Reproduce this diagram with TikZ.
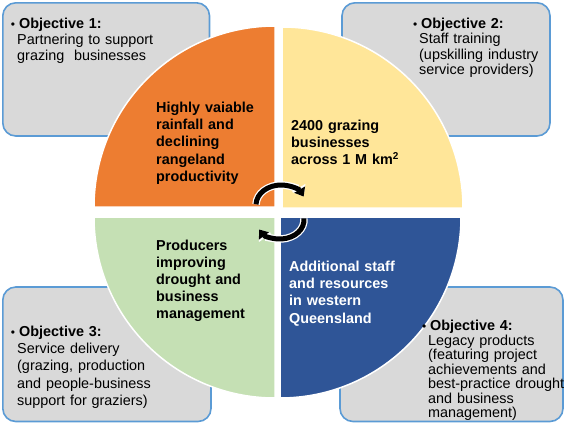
\documentclass[tikz,border=0pt]{standalone}
\usepackage{fontspec}
\setmainfont{Liberation Sans}
\usepackage{xcolor}
\usetikzlibrary{arrows.meta}
\setlength{\parindent}{0pt}
\definecolor{objgray}{HTML}{D9D9D9}
\definecolor{objblue}{HTML}{5B9BD5}
\definecolor{qorange}{HTML}{ED7D31}
\definecolor{qyellow}{HTML}{FFE699}
\definecolor{qgreen}{HTML}{C5E0B4}
\definecolor{qblue}{HTML}{2F5597}
\tikzset{
  objbox/.style={draw=objblue, fill=objgray, line width=1.6pt, rounded corners=13pt},
  quad/.style={draw=white, line width=1.5pt},
  objtxt/.style={anchor=base west, inner sep=0pt, align=left, text width=210pt, font=\fontsize{14.4}{#1}\selectfont},
  quadtxt/.style={anchor=base west, inner sep=0pt, align=left, text width=140pt, font=\fontsize{14.4}{17.2}\selectfont\bfseries},
  cyc/.style={line width=5pt, -{Triangle[length=8pt,width=12pt]},
    preaction={draw=white, line width=7.5pt, -{Triangle[length=10pt,width=15pt]}}},
}
\newcommand{\objbullet}{\hspace*{2pt}\llap{{\fontsize{12}{12}\selectfont\textbullet}\hspace{4pt}}}

\begin{document}
\begin{tikzpicture}[x=1pt, y=-1pt]
\useasboundingbox (0,0) rectangle (566,424);
% objective boxes
\draw[objbox] (2.8,2.8) rectangle (209.5,136);
\draw[objbox] (342,2.8) rectangle (550,136);
\draw[objbox] (2.8,287) rectangle (211,421.5);
\draw[objbox] (340,287) rectangle (563,421.5);
% exploded circle
\filldraw[quad, fill=qorange] (275,207) -- (94,207) arc[start angle=180, end angle=270, radius=181] -- cycle;
\filldraw[quad, fill=qyellow] (282,208) -- (282,27) arc[start angle=270, end angle=360, radius=181] -- cycle;
\filldraw[quad, fill=qblue] (280,217) -- (461,217) arc[start angle=0, end angle=90, radius=181] -- cycle;
\filldraw[quad, fill=qgreen] (275,217) -- (275,398) arc[start angle=90, end angle=180, radius=181] -- cycle;
% objective texts
\node[objtxt=16.3] (obj1) at (17,28) {\objbullet\textbf{Objective 1:}\\Partnering to support\\grazing~ businesses};
\node[objtxt=15.6] (obj2) at (419,28) {\objbullet\textbf{Objective 2:}\\Staff training\\(upskilling industry\\service providers)};
\node[objtxt=17.2] (obj3) at (17,336.5) {\objbullet\textbf{Objective 3:}\\Service delivery\\(grazing, production\\and people-business\\support for graziers)};
\node[objtxt=14.5] (obj4) at (428,330.5) {\objbullet\textbf{Objective 4:}\\Legacy products\\(featuring project\\achievements and\\best-practice drought\\and business\\management)};
% quadrant texts
\node[quadtxt] (rain) at (156,112.5) {Highly vaiable\\rainfall and\\declining\\rangeland\\productivity};
\node[quadtxt] (graz) at (291,130.5) {2400 grazing\\businesses\\across 1 M km\textsuperscript{2}};
\node[quadtxt] (prod) at (156,250) {Producers\\improving\\drought and\\business\\management};
\node[quadtxt, text=white] (staff) at (289,271.5) {Additional staff\\and resources\\in western\\Queensland};
% cycle arrows
\draw[cyc] (281,205) ++(182:25 and 20) arc[start angle=182, end angle=335, x radius=25, y radius=20];
\draw[cyc] (280,220) ++(-5:24 and 19) arc[start angle=-5, end angle=150, x radius=24, y radius=19];
\end{tikzpicture}
\end{document}
